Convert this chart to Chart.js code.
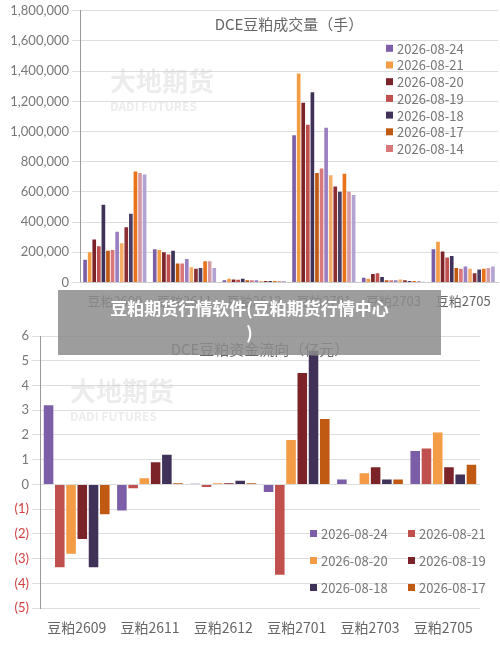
<!DOCTYPE html>
<html><head><meta charset="utf-8">
<script src="https://cdn.jsdelivr.net/npm/chart.js@4"></script>
<style>
body{margin:0;width:500px;height:645px;background:#fff;position:relative;overflow:hidden;font-family:"Noto Sans CJK SC",sans-serif}
#c1{position:absolute;left:0;top:0}
#c2{position:absolute;left:0;top:320px}
#ov{position:absolute;left:58px;top:290px;width:383px;height:65px;background:rgba(140,140,140,0.85);color:#fff;font-weight:bold;font-size:17px;line-height:24px;text-align:center;padding-top:6px;box-sizing:border-box}
</style></head><body>
<canvas id="c1" width="500" height="320"></canvas>
<canvas id="c2" width="500" height="325"></canvas>
<div id="ov">豆粕期货行情软件(豆粕期货行情中心<br>)</div>
<script>
const categories=["豆粕2609","豆粕2611","豆粕2612","豆粕2701","豆粕2703","豆粕2705"];
const volDates=["2026-08-24","2026-08-21","2026-08-20","2026-08-19","2026-08-18","2026-08-17","2026-08-14","2026-08-13","2026-08-12","2026-08-11","2026-08-10","2026-08-07","2026-08-06","2026-08-05"];
const volValues=[
[150000,220000,15000,975000,30000,220000],
[200000,215000,25000,1385000,25000,270000],
[285000,200000,20000,1190000,55000,205000],
[240000,185000,18000,1045000,60000,165000],
[515000,210000,25000,1260000,35000,175000],
[210000,125000,15000,725000,15000,95000],
[215000,125000,15000,755000,15000,90000],
[335000,155000,15000,1025000,15000,105000],
[260000,100000,10000,710000,20000,90000],
[365000,90000,10000,635000,15000,60000],
[455000,95000,10000,600000,10000,85000],
[735000,140000,10000,720000,10000,90000],
[725000,140000,10000,600000,10000,95000],
[715000,95000,10000,580000,5000,105000]];
const volColors=["#7B5EA7","#F39B45","#7B2328","#C0504D","#3F3158","#C05A12","#D9787A","#9A80C2","#F5AE6A","#8A3035","#4A3E66","#E8731B","#D49AA5","#B3A3D3"];
const flowDates=["2026-08-24","2026-08-21","2026-08-20","2026-08-19","2026-08-18","2026-08-17"];
const flowValues=[
[3.2,-1.05,0.03,-0.3,0.2,1.35],
[-3.35,-0.15,-0.1,-3.65,0,1.45],
[-2.8,0.25,0.05,1.8,0.45,2.1],
[-2.2,0.9,0.05,4.5,0.7,0.7],
[-3.35,1.2,0.15,5.4,0.2,0.4],
[-1.2,0.05,0.05,2.65,0.2,0.8]];
const flowColors=["#7B5EA7","#C0504D","#F39B45","#7B2328","#3F3158","#C05A12"];
const F="Noto Sans CJK SC";
function deco(title,legendFn){return{id:'deco',afterDraw(ch){const c=ch.ctx,a=ch.chartArea;c.save();
c.font='bold 26px '+F;c.fillStyle='rgba(200,200,200,0.35)';c.textAlign='left';c.textBaseline='alphabetic';
c.fillText('大地期货',a.left+30,a.top+ (ch.canvas.id==='c1'?80:65));c.font='bold 12px '+F;c.fillText('DADI FUTURES',a.left+30,a.top+(ch.canvas.id==='c1'?100:85));
c.font='15px '+F;c.fillStyle='#666';c.textAlign='center';c.textBaseline='middle';c.fillText(title,(a.left+a.right)/2,a.top+13);
legendFn(c,a);c.restore();}}}
new Chart(document.getElementById('c1'),{type:'bar',
data:{labels:categories,datasets:volValues.map((v,i)=>({label:volDates[i],data:v,backgroundColor:volColors[i]}))},
options:{responsive:false,animation:false,layout:{padding:{top:8,right:2,bottom:8}},
datasets:{bar:{categoryPercentage:0.92,barPercentage:0.8}},
plugins:{legend:{display:false},tooltip:{enabled:false}},
scales:{y:{min:0,max:1800000,afterFit:s=>{s.width=80},ticks:{stepSize:200000,color:'#777',font:{size:13,family:'Lato'},callback:v=>v.toLocaleString('en-US')},grid:{color:'#ddd'},border:{color:'#999'}},
x:{ticks:{color:'#666',font:{size:13,family:F}},grid:{display:false},border:{color:'#ccc'}}}},
plugins:[deco('DCE豆粕成交量（手）',(c,a)=>{c.font='13px '+F;c.textAlign='left';for(let i=0;i<7;i++){const y=a.top+38+i*16.7;c.fillStyle=volColors[i];c.fillRect(a.right-112,y-4,7,7);c.fillStyle='#777';c.fillText(volDates[i],a.right-101,y);}})]});
new Chart(document.getElementById('c2'),{type:'bar',
data:{labels:categories,datasets:flowValues.map((v,i)=>({label:flowDates[i],data:v,backgroundColor:flowColors[i]}))},
options:{responsive:false,animation:false,layout:{padding:{top:16,right:20,bottom:6}},
datasets:{bar:{categoryPercentage:0.92,barPercentage:0.85}},
plugins:{legend:{display:false},tooltip:{enabled:false}},
scales:{y:{min:-5,max:6,afterFit:s=>{s.width=40},ticks:{stepSize:1,font:{size:13,family:'Lato'},color:c=>c.tick.value<0?'#d04040':'#777',callback:v=>v<0?'('+(-v)+')':v},grid:{color:'#ddd'},border:{color:'#999'}},
x:{ticks:{color:'#666',font:{size:14,family:F}},grid:{display:false},border:{display:false}}}},
plugins:[deco('DCE豆粕资金流向（亿元）',(c,a)=>{c.font='13px '+F;c.textAlign='left';for(let i=0;i<6;i++){const col=i%2,row=Math.floor(i/2);const x=a.left+270+col*98,y=a.top+198+row*27;c.fillStyle=flowColors[i];c.fillRect(x,y-4,7,7);c.fillStyle='#777';c.fillText(flowDates[i],x+11,y);}})]});
</script></body></html>
